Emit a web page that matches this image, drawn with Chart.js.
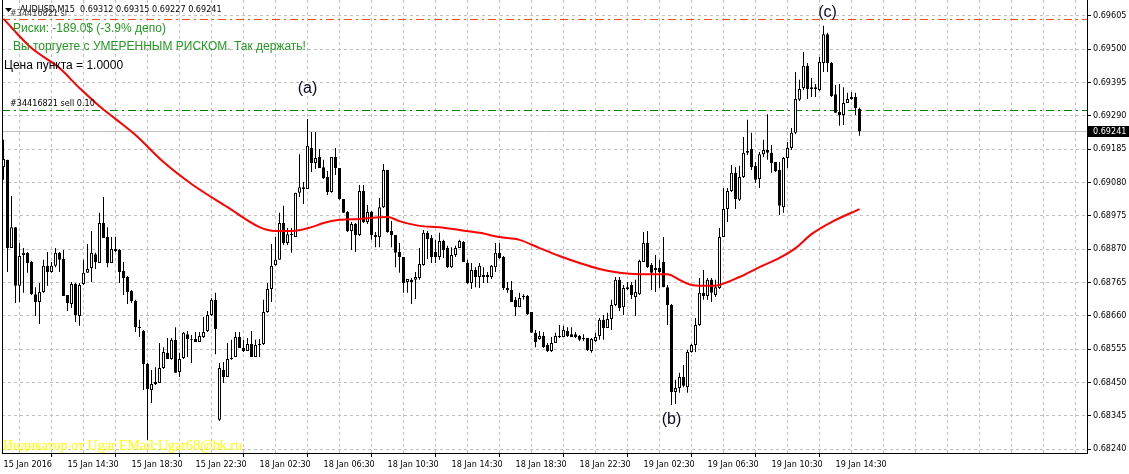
<!DOCTYPE html>
<html><head><meta charset="utf-8">
<script src="https://cdn.jsdelivr.net/npm/chart.js@4.4.0/dist/chart.umd.min.js"></script>
<style>html,body{margin:0;padding:0;background:#fff;overflow:hidden}canvas{display:block}</style>
</head><body>
<canvas id="c" width="1129" height="474"></canvas>
<script>
const symbol = 'AUDUSD', timeframe = 'M15';
const opens = [0.69128,0.69151,0.68873,0.68939,0.68754,0.68851,0.68858,0.68829,0.68728,0.68703,
0.68735,0.68817,0.68798,0.68817,0.68858,0.68839,0.68725,0.68697,0.68760,0.68659,
0.68760,0.68795,0.68810,0.68854,0.68826,0.68952,0.68908,0.68826,0.68864,0.68867,
0.68801,0.68782,0.68738,0.68706,0.68624,0.68612,0.68508,0.68426,0.68445,0.68448,
0.68495,0.68543,0.68524,0.68584,0.68483,0.68527,0.68602,0.68584,0.68587,0.68577,
0.68593,0.68612,0.68662,0.68710,0.68332,0.68489,0.68467,0.68524,0.68530,0.68593,
0.68558,0.68549,0.68571,0.68530,0.68568,0.68571,0.68672,0.68744,0.68820,0.68836,
0.68952,0.68889,0.68914,0.68908,0.69047,0.69059,0.69059,0.69188,0.69141,0.69160,
0.69128,0.69097,0.69050,0.69160,0.69125,0.69028,0.68987,0.68927,0.68949,0.68914,
0.69053,0.68955,0.68987,0.68914,0.68908,0.69002,0.69119,0.68927,0.68914,0.68861,
0.68845,0.68766,0.68773,0.68773,0.68779,0.68820,0.68921,0.68905,0.68861,0.68845,
0.68895,0.68873,0.68813,0.68851,0.68873,0.68892,0.68826,0.68763,0.68804,0.68782,
0.68788,0.68788,0.68782,0.68813,0.68858,0.68845,0.68747,0.68741,0.68710,0.68687,
0.68719,0.68722,0.68672,0.68606,0.68587,0.68596,0.68568,0.68549,0.68574,0.68593,
0.68593,0.68612,0.68602,0.68602,0.68596,0.68590,0.68590,0.68549,0.68580,0.68596,
0.68647,0.68621,0.68650,0.68694,0.68773,0.68687,0.68744,0.68757,0.68719,0.68728,
0.68829,0.68889,0.68820,0.68804,0.68810,0.68829,0.68750,0.68694,0.68420,0.68432,
0.68467,0.68435,0.68546,0.68568,0.68631,0.68732,0.68722,0.68773,0.68725,0.68747,
0.68908,0.68996,0.69053,0.69110,0.69025,0.69097,0.69173,0.69185,0.69132,0.69091,
0.69169,0.69182,0.69173,0.69144,0.69119,0.69002,0.69157,0.69188,0.69236,0.69340,
0.69377,0.69447,0.69380,0.69374,0.69371,0.69456,0.69547,0.69456,0.69358,0.69302,
0.69292,0.69330,0.69343,0.69349,0.69312];
const highs = [0.69214,0.69151,0.69037,0.68939,0.68889,0.68873,0.68861,0.68832,0.68750,0.68763,
0.68836,0.68861,0.68829,0.68873,0.68861,0.68867,0.68725,0.68766,0.68763,0.68763,
0.68836,0.68886,0.68927,0.68858,0.68984,0.69034,0.68939,0.68908,0.68908,0.68870,
0.68829,0.68785,0.68741,0.68710,0.68647,0.68615,0.68511,0.68489,0.68498,0.68574,
0.68561,0.68590,0.68590,0.68624,0.68543,0.68609,0.68612,0.68599,0.68609,0.68609,
0.68656,0.68675,0.68716,0.68732,0.68511,0.68514,0.68574,0.68584,0.68609,0.68609,
0.68584,0.68590,0.68612,0.68584,0.68587,0.68710,0.68763,0.68886,0.68908,0.68984,
0.69006,0.68936,0.68936,0.69047,0.69169,0.69081,0.69280,0.69239,0.69239,0.69185,
0.69151,0.69116,0.69160,0.69188,0.69125,0.69028,0.68990,0.68955,0.68952,0.69072,
0.69072,0.69009,0.68990,0.68924,0.69031,0.69138,0.69119,0.68958,0.68914,0.68889,
0.68845,0.68776,0.68779,0.68798,0.68873,0.68930,0.68927,0.68914,0.68899,0.68921,
0.68899,0.68880,0.68876,0.68880,0.68899,0.68895,0.68836,0.68826,0.68813,0.68826,
0.68813,0.68798,0.68820,0.68889,0.68889,0.68848,0.68766,0.68769,0.68719,0.68732,
0.68728,0.68725,0.68672,0.68615,0.68612,0.68609,0.68574,0.68593,0.68606,0.68631,
0.68628,0.68624,0.68624,0.68609,0.68599,0.68602,0.68590,0.68590,0.68606,0.68653,
0.68662,0.68669,0.68710,0.68782,0.68782,0.68757,0.68766,0.68766,0.68773,0.68836,
0.68924,0.68927,0.68826,0.68851,0.68836,0.68908,0.68757,0.68697,0.68458,0.68480,
0.68505,0.68552,0.68571,0.68653,0.68779,0.68804,0.68779,0.68779,0.68773,0.68936,
0.69062,0.69062,0.69135,0.69128,0.69132,0.69223,0.69277,0.69236,0.69144,0.69176,
0.69214,0.69295,0.69198,0.69144,0.69144,0.69160,0.69207,0.69251,0.69428,0.69403,
0.69491,0.69456,0.69409,0.69390,0.69475,0.69573,0.69551,0.69459,0.69387,0.69390,
0.69380,0.69362,0.69365,0.69362,0.69315];
const lows = [0.69088,0.68798,0.68873,0.68700,0.68703,0.68732,0.68795,0.68725,0.68659,0.68634,
0.68732,0.68754,0.68795,0.68813,0.68798,0.68722,0.68675,0.68684,0.68640,0.68628,
0.68757,0.68795,0.68766,0.68807,0.68826,0.68905,0.68813,0.68826,0.68861,0.68763,
0.68725,0.68697,0.68700,0.68609,0.68593,0.68426,0.68269,0.68385,0.68442,0.68448,
0.68492,0.68524,0.68521,0.68480,0.68467,0.68524,0.68530,0.68511,0.68577,0.68577,
0.68590,0.68609,0.68659,0.68539,0.68328,0.68448,0.68467,0.68521,0.68530,0.68558,
0.68546,0.68549,0.68530,0.68530,0.68530,0.68568,0.68669,0.68703,0.68817,0.68836,
0.68883,0.68883,0.68858,0.68908,0.69034,0.69012,0.69059,0.69113,0.69122,0.69125,
0.69091,0.69040,0.69047,0.69103,0.69025,0.68984,0.68924,0.68867,0.68861,0.68911,
0.68952,0.68949,0.68899,0.68876,0.68876,0.68999,0.68921,0.68876,0.68813,0.68795,
0.68732,0.68732,0.68697,0.68713,0.68773,0.68817,0.68839,0.68826,0.68826,0.68836,
0.68842,0.68810,0.68810,0.68845,0.68873,0.68829,0.68760,0.68744,0.68750,0.68747,
0.68763,0.68763,0.68776,0.68798,0.68839,0.68741,0.68732,0.68703,0.68659,0.68687,
0.68710,0.68662,0.68606,0.68561,0.68584,0.68558,0.68546,0.68546,0.68574,0.68590,
0.68593,0.68593,0.68593,0.68590,0.68580,0.68580,0.68549,0.68543,0.68577,0.68584,
0.68584,0.68621,0.68615,0.68690,0.68675,0.68662,0.68741,0.68713,0.68659,0.68725,
0.68829,0.68810,0.68741,0.68735,0.68747,0.68750,0.68631,0.68379,0.68382,0.68417,
0.68435,0.68417,0.68543,0.68546,0.68628,0.68710,0.68710,0.68703,0.68719,0.68744,
0.68908,0.68955,0.69050,0.68996,0.69021,0.69094,0.69166,0.69119,0.69078,0.69062,
0.69160,0.69151,0.69110,0.69113,0.68977,0.68984,0.69125,0.69182,0.69232,0.69336,
0.69371,0.69343,0.69349,0.69349,0.69368,0.69428,0.69428,0.69349,0.69299,0.69258,
0.69261,0.69330,0.69340,0.69292,0.69227];
const closes = [0.69154,0.68873,0.68939,0.68754,0.68848,0.68858,0.68826,0.68728,0.68703,0.68735,
0.68817,0.68798,0.68817,0.68858,0.68836,0.68722,0.68700,0.68760,0.68662,0.68757,
0.68795,0.68807,0.68858,0.68829,0.68952,0.68905,0.68826,0.68870,0.68870,0.68798,
0.68779,0.68735,0.68706,0.68624,0.68621,0.68508,0.68429,0.68445,0.68451,0.68495,
0.68546,0.68524,0.68584,0.68480,0.68524,0.68606,0.68587,0.68583,0.68577,0.68596,
0.68609,0.68662,0.68710,0.68618,0.68495,0.68467,0.68524,0.68527,0.68593,0.68558,
0.68549,0.68571,0.68530,0.68568,0.68571,0.68672,0.68744,0.68817,0.68836,0.68952,
0.68889,0.68917,0.68917,0.69047,0.69065,0.69065,0.69195,0.69141,0.69157,0.69125,
0.69094,0.69050,0.69160,0.69125,0.69028,0.68984,0.68927,0.68949,0.68914,0.69053,
0.68955,0.68987,0.68914,0.68908,0.69002,0.69119,0.68924,0.68914,0.68858,0.68845,
0.68763,0.68776,0.68766,0.68782,0.68823,0.68921,0.68902,0.68845,0.68845,0.68895,
0.68867,0.68813,0.68851,0.68873,0.68895,0.68829,0.68763,0.68804,0.68782,0.68817,
0.68782,0.68782,0.68817,0.68858,0.68842,0.68747,0.68741,0.68703,0.68687,0.68716,
0.68722,0.68665,0.68606,0.68577,0.68596,0.68561,0.68549,0.68574,0.68596,0.68596,
0.68615,0.68596,0.68593,0.68593,0.68584,0.68587,0.68552,0.68587,0.68593,0.68647,
0.68621,0.68650,0.68694,0.68773,0.68684,0.68747,0.68750,0.68725,0.68735,0.68832,
0.68889,0.68813,0.68795,0.68810,0.68798,0.68750,0.68694,0.68420,0.68432,0.68467,
0.68439,0.68546,0.68568,0.68631,0.68732,0.68722,0.68773,0.68732,0.68750,0.68908,
0.68996,0.69053,0.69110,0.69028,0.69097,0.69173,0.69179,0.69128,0.69088,0.69169,
0.69182,0.69173,0.69141,0.69116,0.69006,0.69157,0.69188,0.69236,0.69343,0.69374,
0.69447,0.69374,0.69374,0.69380,0.69459,0.69547,0.69456,0.69352,0.69299,0.69292,
0.69330,0.69343,0.69349,0.69314,0.69241];

// moving average read at selected bars
const maBars = [0,7,14,19,24,28,33,40,47,56,64,68,72,77,80,84,89,96,99,104,109,114,119,124,129,134,139,144,149,154,159,166,169,172,177,179,184,189,194,198,202,207,214];
const maValues = [0.69595,0.69503,0.69440,0.69377,0.69320,0.69280,0.69229,0.69144,0.69075,0.69002,0.68939,0.68927,0.68927,0.68939,0.68952,0.68962,0.68965,0.68971,0.68958,0.68943,0.68939,0.68930,0.68921,0.68908,0.68899,0.68873,0.68848,0.68826,0.68807,0.68795,0.68791,0.68791,0.68773,0.68757,0.68754,0.68757,0.68782,0.68813,0.68842,0.68873,0.68917,0.68955,0.68996];

const priceTicks = [0.69605,0.69500,0.69395,0.69290,0.69185,0.69080,0.68975,0.68870,0.68765,0.68660,0.68555,0.68450,0.68345,0.68240];
const timeLabels = ['15 Jan 2016','15 Jan 14:30','15 Jan 18:30','15 Jan 22:30','18 Jan 02:30','18 Jan 06:30','18 Jan 10:30','18 Jan 14:30','18 Jan 18:30','18 Jan 22:30','19 Jan 02:30','19 Jan 06:30','19 Jan 10:30','19 Jan 14:30'];
const labelBars = [0,16,32,48,64,80,96,112,128,144,160,176,192,208];

const stopLossPrice = 0.69594;
const orderOpenPrice = 0.69308;
const orderTicket = '#34416821';
const riskText = 'Риски: -189.0$ (-3.9% депо)';
const riskComment = 'Вы торгуете с УМЕРЕННЫМ РИСКОМ. Так держать!';
const pointText = 'Цена пункта = 1.0000';
const footerText = 'Индикатор от Ugar EMail:Ugar68@bk.ru';
const marks = [{t:'(a)', bar:76, at:'high'}, {t:'(b)', bar:167, at:'low'}, {t:'(c)', bar:206, at:'high'}];

const AX = "'DejaVu Sans Condensed', 'Liberation Sans', sans-serif";
const last = closes.length - 1;

const idx = opens.map((_, i) => i);
const wickData = idx.map(i => ({x: i, y: [lows[i], highs[i]]}));
const bodyData = idx.map(i => ({x: i, y: [opens[i], closes[i]]}));
const bodyFill = idx.map(i => closes[i] >= opens[i] ? '#ffffff' : '#000000');
const maData = maBars.map((b, k) => ({x: b, y: maValues[k]}));

const overlay = {
  id: 'overlay',
  beforeDatasetsDraw(chart) {
    const {ctx, chartArea: a, scales: {y}} = chart;
    ctx.save();
    const hline = (v, color, dash) => {
      const py = Math.round(y.getPixelForValue(v)) + 0.5;
      ctx.strokeStyle = color; ctx.lineWidth = 1; ctx.setLineDash(dash);
      ctx.beginPath(); ctx.moveTo(a.left, py); ctx.lineTo(a.right, py); ctx.stroke();
    };
    hline(closes[last], '#c0c0c0', []);
    hline(orderOpenPrice, '#008000', [8,4,2,4]);
    hline(stopLossPrice, '#ff4d1a', [8,4,2,4]);
    ctx.restore();
  },
  afterDraw(chart) {
    const {ctx, chartArea: a, scales: {x, y}} = chart;
    ctx.save();
    // left frame
    ctx.strokeStyle = '#000'; ctx.lineWidth = 1; ctx.setLineDash([]);
    ctx.beginPath(); ctx.moveTo(a.left + 0.5, 0); ctx.lineTo(a.left + 0.5, a.bottom); ctx.stroke();
    ctx.textBaseline = 'middle'; ctx.textAlign = 'left';
    // header
    ctx.fillStyle = '#000';
    ctx.beginPath(); ctx.moveTo(5, 8); ctx.lineTo(12, 8); ctx.lineTo(8.5, 12); ctx.closePath(); ctx.fill();
    ctx.font = '9px ' + AX;
    ctx.fillText(symbol + ',' + timeframe + '  ' + opens[last].toFixed(5) + ' ' + highs[last].toFixed(5) + ' ' + lows[last].toFixed(5) + ' ' + closes[last].toFixed(5), 20, 10);
    ctx.fillStyle = '#404040';
    ctx.fillText(orderTicket + ' sl', 10, y.getPixelForValue(stopLossPrice) - 6);
    ctx.fillStyle = '#000';
    ctx.fillText(orderTicket + ' sell 0.10', 10, y.getPixelForValue(orderOpenPrice) - 6);
    ctx.font = "12px 'Liberation Sans', Arial, sans-serif";
    ctx.fillStyle = '#229922';
    ctx.fillText(riskText, 13, 29);
    ctx.fillText(riskComment, 13, 47);
    ctx.fillStyle = '#000';
    ctx.fillText(pointText, 4, 66);
    // wave marks
    ctx.font = "16px 'Liberation Sans', Arial, sans-serif";
    ctx.textAlign = 'center';
    ctx.fillStyle = '#0a0a20';
    marks.forEach(m => {
      const px = x.getPixelForValue(m.bar);
      const py = m.at === 'high' ? y.getPixelForValue(highs[m.bar]) - (m.bar === 206 ? 20 : 30) : y.getPixelForValue(lows[m.bar]) + 15;
      ctx.fillText(m.t, px, py);
    });
    // footer
    ctx.textAlign = 'left';
    ctx.font = "14px 'Liberation Serif', 'Times New Roman', serif";
    ctx.fillStyle = '#ffff00';
    ctx.fillText(footerText, 3, 446);
    // price tag
    const ty = y.getPixelForValue(closes[last]);
    ctx.fillStyle = '#000';
    ctx.fillRect(a.right + 1, Math.round(ty) - 5, chart.width - a.right - 1, 11);
    ctx.fillStyle = '#fff';
    ctx.font = '9px ' + AX;
    ctx.fillText(closes[last].toFixed(5), a.right + 6, Math.round(ty) + 0.5);
    ctx.restore();
  }
};

new Chart(document.getElementById('c'), {
  type: 'bar',
  data: { datasets: [
    { type: 'line', data: maData, borderColor: '#ff0000', borderWidth: 2, pointRadius: 0, cubicInterpolationMode: 'monotone', order: 0 },
    { data: bodyData, backgroundColor: bodyFill, borderColor: '#000000', borderWidth: 1, borderSkipped: false, grouped: false, categoryPercentage: 1, barPercentage: 0.75, maxBarThickness: 3, minBarLength: 1, inflateAmount: 0, order: 1 },
    { data: wickData, backgroundColor: '#000000', borderWidth: 0, grouped: false, categoryPercentage: 1, barPercentage: 0.25, maxBarThickness: 1, inflateAmount: 0, order: 2 }
  ]},
  options: {
    responsive: false, animation: false, devicePixelRatio: 1,
    layout: { padding: { left: 2, top: 0, right: 0, bottom: 0 } },
    plugins: { legend: { display: false }, tooltip: { enabled: false } },
    scales: {
      x: {
        type: 'linear', position: 'bottom', min: -0.375, max: 270.875, offset: false,
        afterBuildTicks: s => { const t = []; for (let v = 0; v <= 264; v += 8) t.push({value: v}); s.ticks = t; },
        afterFit: s => { s.height = 21; s.paddingLeft = 0; s.paddingRight = 0; },
        grid: {
          color: c => (c.tick && c.tick.value === 0) ? 'rgba(0,0,0,0)' : '#c0c0c0',
          lineWidth: 1, drawTicks: true, tickLength: 4, tickWidth: 1, tickBorderDash: [],
          tickColor: c => (c.tick && labelBars.includes(c.tick.value)) ? '#000' : 'rgba(0,0,0,0)'
        },
        border: { display: true, color: '#000', width: 1, dash: [3,3] },
        ticks: { autoSkip: false, maxRotation: 0, minRotation: 0, align: 'start', padding: 2, color: '#000', font: { family: AX, size: 9 },
          callback: v => { const k = labelBars.indexOf(v); return k >= 0 ? timeLabels[k] : ''; } }
      },
      y: {
        type: 'linear', position: 'right', min: 0.6822755, max: 0.696545,
        afterBuildTicks: s => { s.ticks = priceTicks.map(v => ({value: v})); },
        afterFit: s => { s.width = 42; s.paddingTop = 0; s.paddingBottom = 0; },
        grid: { color: '#c0c0c0', lineWidth: 1, drawTicks: true, tickLength: 4, tickWidth: 1, tickColor: '#000', tickBorderDash: [] },
        border: { display: true, color: '#000', width: 1, dash: [3,3] },
        ticks: { padding: 2, color: '#000', font: { family: AX, size: 9 }, callback: v => v.toFixed(5) }
      }
    }
  },
  plugins: [overlay]
});
</script>
</body></html>
